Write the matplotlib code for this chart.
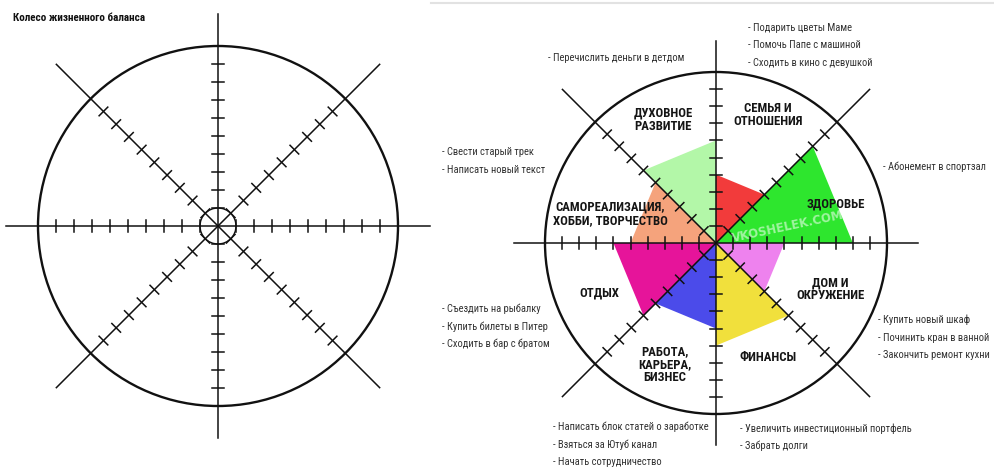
import numpy as np
from matplotlib import pyplot as plt
from matplotlib.patches import Circle, Polygon
from matplotlib.lines import Line2D

# sectors clockwise from the top, between the axes at 90/45/0/-45/... degrees
spheres = ['СЕМЬЯ И\nОТНОШЕНИЯ', 'ЗДОРОВЬЕ', 'ДОМ И\nОКРУЖЕНИЕ', 'ФИНАНСЫ',
           'РАБОТА,\nКАРЬЕРА,\nБИЗНЕС', 'ОТДЫХ', 'САМОРЕАЛИЗАЦИЯ,\nХОББИ, ТВОРЧЕСТВО',
           'ДУХОВНОЕ\nРАЗВИТИЕ']
scores = [4, 8, 4, 6, 5, 6, 5, 6]
colors = ['#F23B3B', '#2EE62E', '#EE82EE', '#F1E03C',
          '#4B4BEA', '#E6149A', '#F5A37C', '#B3F7A8']
# label centres (wheel units)
label_pos = [(3.05, 7.5), (7.0, 2.3), (6.7, -2.7), (3.05, -6.7),
             (-3.0, -7.1), (-6.8, -2.9), (-6.2, 1.7), (-3.1, 7.2)]

goals = [
    ['- Подарить цветы Маме', '- Помочь Папе с машиной', '- Сходить в кино с девушкой'],
    ['- Абонемент в спортзал'],
    ['- Купить новый шкаф', '- Починить кран в ванной', '- Закончить ремонт кухни'],
    ['- Увеличить инвестиционный портфель', '- Забрать долги'],
    ['- Написать блок статей о заработке', '- Взяться за Ютуб канал', '- Начать сотрудничество'],
    ['- Съездить на рыбалку', '- Купить билеты в Питер', '- Сходить в бар с братом'],
    ['- Свести старый трек', '- Написать новый текст'],
    ['- Перечислить деньги в детдом'],
]
# left edge / top line of each goal block (wheel units)
goal_pos = [(1.85, 12.6), (9.75, 4.45), (9.5, -4.5), (1.4, -10.85),
            (-9.55, -10.75), (-16.0, -3.85), (-16.0, 5.3), (-9.8, 10.8)]

title = 'Колесо жизненного баланса'
watermark = 'VKOSHELEK.COM'

R = 10
axis_angles = [90, 45, 0, -45, -90, -135, 180, 135]
narrow = ['Roboto Condensed', 'DejaVu Sans']


def draw_wheel(ax, hub=True):
    ax.add_patch(Circle((0, 0), R, fill=False, lw=1.7, color='#111111', zorder=3))
    if hub:
        ax.add_patch(Circle((0, 0), 1, fill=False, lw=1.0, color='#111111', zorder=3))
    for a in [90, 0]:
        t = np.radians(a)
        ax.plot([-11.8 * np.cos(t), 11.8 * np.cos(t)], [-11.8 * np.sin(t), 11.8 * np.sin(t)],
                color='#111111', lw=1.1, zorder=3)
    for a in [45, 135]:
        t = np.radians(a)
        ax.plot([-12.7 * np.cos(t), 12.7 * np.cos(t)], [-12.7 * np.sin(t), 12.7 * np.sin(t)],
                color='#111111', lw=1.1, zorder=3)
    # ticks across every half-axis
    for a in axis_angles:
        t = np.radians(a)
        px, py = -np.sin(t) * 0.34, np.cos(t) * 0.34
        for r in range(1, 10):
            cx, cy = r * np.cos(t), r * np.sin(t)
            ax.plot([cx - px, cx + px], [cy - py, cy + py], color='#111111', lw=1.1, zorder=3)


fig = plt.figure(figsize=(9.95, 4.70), dpi=100)

# left: empty wheel, centre at (218, 226) px, 18 px per unit
u1 = 18.0
ax1 = fig.add_axes([0, 0, 436 / 995, 1])
ax1.set_xlim(-218 / u1, 218 / u1)
ax1.set_ylim(-244 / u1, 226 / u1)
ax1.axis('off')
draw_wheel(ax1)
fig.text(13 / 995, 1 - 18 / 470, title, fontsize=8, fontweight='bold', family=narrow,
         fontstretch='condensed', va='center', ha='left', color='#111111')

# right: filled wheel, centre at (716, 243) px, 17.1 px per unit
u2 = 17.1
ax2 = fig.add_axes([436 / 995, 0, 559 / 995, 1])
ax2.set_xlim(-280 / u2, 279 / u2)
ax2.set_ylim(-227 / u2, 243 / u2)
ax2.axis('off')

for i in range(len(scores)):
    t1 = np.radians(axis_angles[i])
    t2 = np.radians(axis_angles[(i + 1) % 8] if i < 7 else 90)
    v = scores[i]
    poly = Polygon([(0, 0), (v * np.cos(t1), v * np.sin(t1)), (v * np.cos(t2), v * np.sin(t2))],
                   closed=True, color=colors[i], lw=0, zorder=1)
    ax2.add_patch(poly)

draw_wheel(ax2, hub=False)

for i in range(len(spheres)):
    ax2.text(label_pos[i][0], label_pos[i][1], spheres[i], ha='center', va='center',
             fontsize=9.2, fontweight='bold', family=narrow, fontstretch='condensed',
             color='#151515', linespacing=1.0, zorder=5)

for i in range(len(goals)):
    x, y = goal_pos[i]
    for j, g in enumerate(goals[i]):
        ax2.text(x, y - j * 1.03, g, ha='left', va='center', fontsize=7.6,
                 family=narrow, fontstretch='condensed', color='#333333', zorder=5)

ax2.text(4.2, 0.95, watermark, ha='center', va='center', fontsize=8.5, fontweight='bold',
         color='white', alpha=0.55, rotation=12, zorder=4)

fig.add_artist(Line2D([431 / 995, 1], [1 - 2.5 / 470, 1 - 2.5 / 470], color='#e2e2e2', lw=1.5))

plt.savefig('out.png', dpi=100)
